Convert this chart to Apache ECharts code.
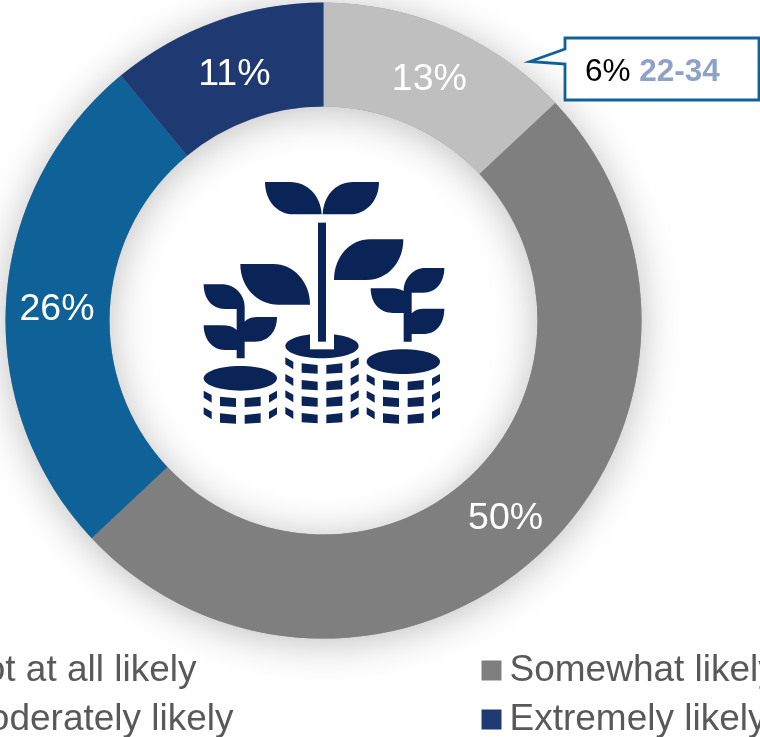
<!DOCTYPE html>
<html>
<head>
<meta charset="utf-8">
<style>html,body{margin:0;padding:0;background:#fff}#c{width:760px;height:737px}</style>
<script src="https://cdn.jsdelivr.net/npm/echarts@6/dist/echarts.min.js"></script>
</head>
<body>
<div id="c"></div>
<script>
const categories = ['Moderately likely', 'Somewhat likely', 'Not at all likely', 'Extremely likely'];
const sliceValues = [13, 50, 26, 11];
const sliceColors = ['#BFBFBF', '#7F7F7F', '#0F6298', '#1F3A73'];
const calloutPct = '6%';
const calloutAge = '22-34';
const FONT = '"Liberation Sans", Arial, sans-serif';
const NAVY = '#0A2458';
const labelNudges = [[-1, 6], [-2, 2], [2, 6], [2, 7]];

const legendSpots = [
  { name: 'Not at all likely', left: -70, top: 652 },
  { name: 'Moderately likely', left: -70, top: 701 },
  { name: 'Somewhat likely', left: 481.5, top: 652 },
  { name: 'Extremely likely', left: 481.5, top: 701 }
];
const legendColors = { 'Not at all likely': '#0F6298', 'Moderately likely': '#BFBFBF', 'Somewhat likely': '#7F7F7F', 'Extremely likely': '#1F3A73' };

const iconPaths = [
  'M255 66H330C385 66 422 110 425 163H340C290 163 255 120 255 66Z',
  'M597 66H520C465 66 430 110 428 163H510C560 163 597 120 597 66Z',
  'M670 238H570C510 238 462 290 462 360H560C620 360 670 310 670 238Z',
  'M181 312H280C340 312 390 365 390 434H295C235 434 181 385 181 312Z',
  'M71 373H125C165 373 194 405 194 440V485C205 473 220 471 235 471H291C291 515 265 545 225 545H194V595H170V570H135C95 570 71 535 71 496H125C145 496 160 500 170 510V447H135C95 447 71 415 71 373Z',
  'M793 324H735C700 324 671 355 671 393C660 388 650 385 640 385H572C572 430 600 459 640 459H671V545H695V522H730C770 522 793 490 793 446H735C715 446 705 450 695 460V398H730C770 398 793 365 793 324Z'
];
const coinStacks = [
  { cx: 181, top: 655, rows: [725, 775] },
  { cx: 426, top: 558, rows: [625, 675, 724, 774] },
  { cx: 670, top: 605, rows: [675, 725, 775] }
];
iconPaths.forEach((d, i) => echarts.graphic.registerShape('iconLeaf' + i, echarts.graphic.extendPath(d, {})));
function iconChildren() {
  const out = iconPaths.map((d, i) => ({ type: 'iconLeaf' + i, style: { fill: NAVY } }));
  coinStacks.forEach(s => {
    out.push({ type: 'ellipse', shape: { cx: s.cx, cy: s.top, rx: 110, ry: 37 }, style: { fill: NAVY } });
    s.rows.forEach(y => {
      [-1, 1].forEach(k => {
        const c = s.cx;
        out.push({ type: 'polygon', shape: { points: [[c + k * 110, y - 33], [c + k * 86, y - 20], [c + k * 86, y + 3], [c + k * 110, y - 12]] }, style: { fill: NAVY } });
        out.push({ type: 'polygon', shape: { points: [[c + k * 61, y - 15], [c + k * 13, y - 10], [c + k * 13, y + 16], [c + k * 61, y + 13]] }, style: { fill: NAVY } });
      });
    });
  });
  out.push({ type: 'rect', shape: { x: 390, y: 518, width: 72, height: 50 }, style: { fill: '#fff' } });
  out.push({ type: 'rect', shape: { x: 414, y: 188, width: 24, height: 357 }, style: { fill: NAVY } });
  return out;
}

const chart = echarts.init(document.getElementById('c'), null, { renderer: 'canvas' });
chart.setOption({
  animation: false,
  backgroundColor: '#fff',
  legend: legendSpots.map(l => ({
    data: [{ name: l.name, icon: 'rect', itemStyle: { color: legendColors[l.name] } }],
    left: l.left, top: l.top, padding: 0, itemWidth: 20, itemHeight: 20,
    selectedMode: false,
    textStyle: { fontFamily: FONT, fontSize: 37, color: '#595959', padding: [7, 0, 0, 3] }
  })),
  series: [
    {
      type: 'pie', silent: true, center: [323.5, 320.6], radius: [214, 318], z: 1,
      label: { show: false }, labelLine: { show: false }, legendHoverLink: false,
      data: [{ value: sliceValues.reduce((a, b) => a + b, 0), name: '_ring' }],
      itemStyle: { color: '#999', shadowBlur: 40, shadowColor: 'rgba(0,0,0,0.26)', shadowOffsetY: 4 }
    },
    {
      type: 'pie', center: [323.5, 320.6], radius: [214, 318], startAngle: 90, clockwise: true, z: 2,
      silent: true,
      data: categories.map((n, i) => ({
        name: n, value: sliceValues[i], itemStyle: { color: sliceColors[i] },
        label: { offset: labelNudges[i] }
      })),
      label: {
        show: true, position: 'inside', formatter: p => p.value + '%',
        color: '#fff', fontFamily: FONT, fontSize: 37.5
      },
      labelLine: { show: false }
    }
  ],
  graphic: [
    { type: 'group', x: 180, y: 160, scaleX: 1 / 3, scaleY: 1 / 3, silent: true, children: iconChildren() },
    {
      type: 'polygon', silent: true, z: 10,
      shape: { points: [[565, 38], [759, 38], [759, 100], [565, 100], [565, 64], [530, 61.5], [565, 49]] },
      style: { fill: '#fff', stroke: '#0F6298', lineWidth: 2.8 }
    },
    {
      type: 'text', x: 585, y: 56, z: 11, silent: true,
      style: {
        text: '{a|' + calloutPct + ' }{b|' + calloutAge + '}',
        rich: {
          a: { fontFamily: FONT, fontSize: 31.5, fill: '#000', color: '#000' },
          b: { fontFamily: FONT, fontSize: 31.5, fontWeight: 'bold', fill: '#8EA2C6', color: '#8EA2C6' }
        }
      }
    }
  ]
});
</script>
</body>
</html>
